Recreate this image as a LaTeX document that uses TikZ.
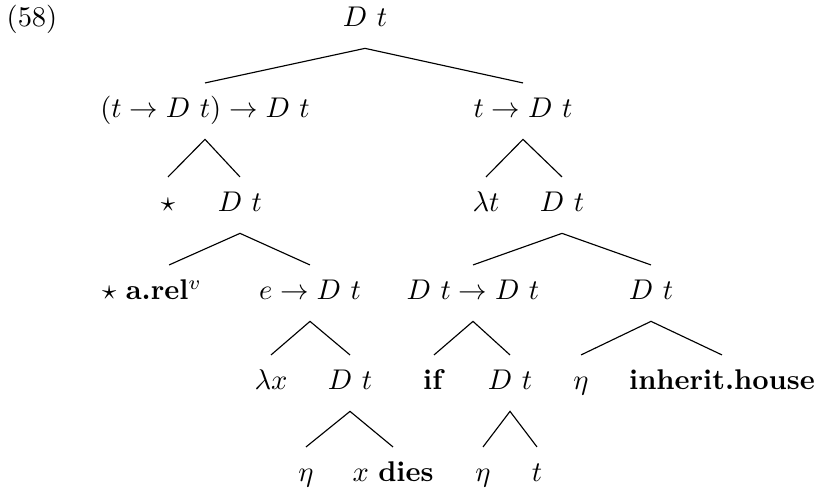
\documentclass[tikz,border=0pt]{standalone}
\usepackage{tikz}
\usetikzlibrary{positioning,calc}
\tikzset{
  lbl/.style={inner sep=0pt, anchor=base},
  branch/.style={line width=0.4pt, draw=black}
}
\begin{document}
\begin{tikzpicture}[x=0.351pt, y=-0.351pt]
    \useasboundingbox (0,0) rectangle (817,495);
    \node[lbl] (num) at (32,27) {(58)};
    \node[lbl] (root) at (365,27) {$D\ t$};
    \node[lbl] (lift) at (205,118) {$(t \to D\ t) \to D\ t$};
    \node[lbl] (abst) at (523,118) {$t \to D\ t$};
    \node[lbl] (stara) at (168,212) {$\star$};
    \node[lbl] (bodya) at (240,212) {$D\ t$};
    \node[lbl] (lamt) at (486,212) {$\lambda t$};
    \node[lbl] (bodyb) at (562,212) {$D\ t$};
    \node[lbl] (arel) at (152,300) {$\star$ \textbf{a.rel}$^v$};
    \node[lbl] (pred) at (310,300) {$e \to D\ t$};
    \node[lbl] (cond) at (473,300) {$D\ t \to D\ t$};
    \node[lbl] (cons) at (651,300) {$D\ t$};
    \node[lbl] (lamx) at (271,390) {$\lambda x$};
    \node[lbl] (bodyc) at (350,390) {$D\ t$};
    \node[lbl] (ifw) at (434,390) {\textbf{if}};
    \node[lbl] (bodyd) at (510,390) {$D\ t$};
    \node[lbl] (etaa) at (581,390) {$\eta$};
    \node[lbl] (house) at (722,390) {\textbf{inherit.house}};
    \node[lbl] (etab) at (306,482) {$\eta$};
    \node[lbl] (dies) at (393,482) {$x$ \textbf{dies}};
    \node[lbl] (etac) at (483,482) {$\eta$};
    \node[lbl] (tvar) at (537,482) {$t$};

    \draw[branch] ([yshift=12.3pt]lift.base) -- ([yshift=-7.5pt]root.base) -- ([yshift=12.3pt]abst.base);
    \draw[branch] ([yshift=12.3pt]stara.base) -- ([yshift=-7.5pt]lift.base) -- ([yshift=12.3pt]bodya.base);
    \draw[branch] ([yshift=12.3pt]lamt.base) -- ([yshift=-7.5pt]abst.base) -- ([yshift=12.3pt]bodyb.base);
    \draw[branch] ([xshift=6pt,yshift=12.3pt]arel.base) -- ([yshift=-7.5pt]bodya.base) -- ([yshift=12.3pt]pred.base);
    \draw[branch] ([yshift=12.3pt]cond.base) -- ([yshift=-7.5pt]bodyb.base) -- ([yshift=12.3pt]cons.base);
    \draw[branch] ([yshift=12.3pt]lamx.base) -- ([yshift=-7.5pt]pred.base) -- ([yshift=12.3pt]bodyc.base);
    \draw[branch] ([yshift=12.3pt]ifw.base) -- ([yshift=-7.5pt]cond.base) -- ([yshift=12.3pt]bodyd.base);
    \draw[branch] ([yshift=12.3pt]etaa.base) -- ([yshift=-7.5pt]cons.base) -- ([yshift=12.3pt]house.base);
    \draw[branch] ([yshift=12.3pt]etab.base) -- ([yshift=-7.5pt]bodyc.base) -- ([yshift=12.3pt]dies.base);
    \draw[branch] ([yshift=12.3pt]etac.base) -- ([yshift=-7.5pt]bodyd.base) -- ([yshift=12.3pt]tvar.base);
\end{tikzpicture}
\end{document}
